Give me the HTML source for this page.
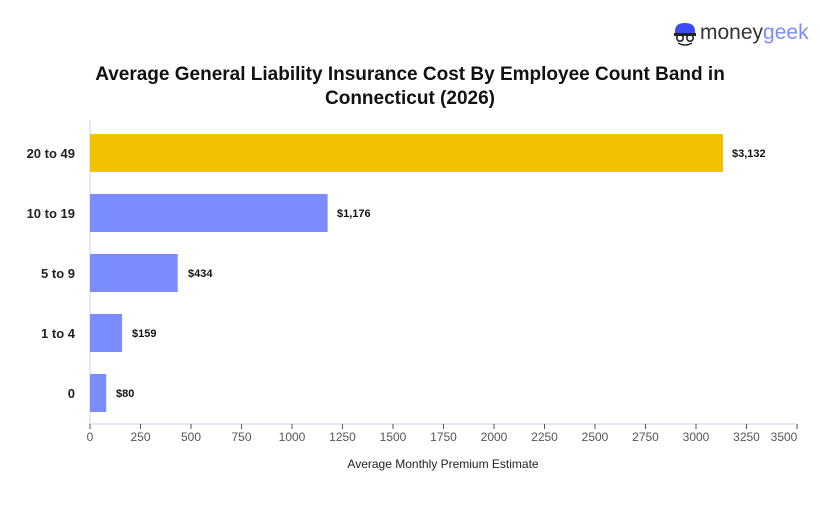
<!DOCTYPE html>
<html><head><style>
body{margin:0;background:#fff;width:820px;height:500px;overflow:hidden;font-family:"Liberation Sans",Arial,sans-serif}
</style></head><body>
<svg width="820" height="500" xmlns="http://www.w3.org/2000/svg" font-family="Liberation Sans, Arial, sans-serif">
<rect width="820" height="500" fill="#fff"/>
<g transform="translate(673,22)">
<path d="M2 9 Q2 1 12 1 Q22 1 22 9 L22 11 L2 11 Z" fill="#3B4CF0"/>
<rect x="1" y="11" width="22" height="3" fill="#222"/>
<circle cx="7" cy="16" r="3.2" fill="none" stroke="#222" stroke-width="1.6"/>
<circle cx="17" cy="16" r="3.2" fill="none" stroke="#222" stroke-width="1.6"/>
<path d="M5 21 Q12 25 19 21" fill="none" stroke="#222" stroke-width="1.4"/>
</g>
<text x="700" y="39" font-size="21" fill="#333">money<tspan fill="#7b8cff">geek</tspan></text>
<text x="410" y="80" text-anchor="middle" font-size="19" font-weight="bold" fill="#111">Average General Liability Insurance Cost By Employee Count Band in</text>
<text x="410" y="104" text-anchor="middle" font-size="19" font-weight="bold" fill="#111">Connecticut (2026)</text>
<line x1="90" y1="120" x2="90" y2="424" stroke="#ccccf5" stroke-width="1"/>
<line x1="90" y1="424" x2="797" y2="424" stroke="#ccccf5" stroke-width="1"/>
<rect x="90" y="134" width="633" height="38" fill="#F2C200"/>
<rect x="90" y="194" width="237.6" height="38" fill="#7B8CFF"/>
<rect x="90" y="254" width="87.7" height="38" fill="#7B8CFF"/>
<rect x="90" y="314" width="32.1" height="38" fill="#7B8CFF"/>
<rect x="90" y="374" width="16.2" height="38" fill="#7B8CFF"/>
<g font-size="11" font-weight="bold" fill="#111">
<text x="732" y="157">$3,132</text>
<text x="337" y="217">$1,176</text>
<text x="188" y="277">$434</text>
<text x="132" y="337">$159</text>
<text x="116" y="397">$80</text>
</g>
<g font-size="13" font-weight="bold" fill="#222" text-anchor="end">
<text x="75" y="158">20 to 49</text>
<text x="75" y="218">10 to 19</text>
<text x="75" y="278">5 to 9</text>
<text x="75" y="338">1 to 4</text>
<text x="75" y="398">0</text>
</g>
<g font-size="12" fill="#555" text-anchor="middle" stroke="none">
<g stroke="#555">
<line x1="90" y1="424" x2="90" y2="429"/><line x1="140.5" y1="424" x2="140.5" y2="429"/><line x1="191" y1="424" x2="191" y2="429"/><line x1="241.5" y1="424" x2="241.5" y2="429"/><line x1="292" y1="424" x2="292" y2="429"/><line x1="342.5" y1="424" x2="342.5" y2="429"/><line x1="393" y1="424" x2="393" y2="429"/><line x1="443.5" y1="424" x2="443.5" y2="429"/><line x1="494" y1="424" x2="494" y2="429"/><line x1="544.5" y1="424" x2="544.5" y2="429"/><line x1="595" y1="424" x2="595" y2="429"/><line x1="645.5" y1="424" x2="645.5" y2="429"/><line x1="696" y1="424" x2="696" y2="429"/><line x1="746.5" y1="424" x2="746.5" y2="429"/><line x1="797" y1="424" x2="797" y2="429"/>
</g>
<text x="90" y="441">0</text><text x="140.5" y="441">250</text><text x="191" y="441">500</text><text x="241.5" y="441">750</text><text x="292" y="441">1000</text><text x="342.5" y="441">1250</text><text x="393" y="441">1500</text><text x="443.5" y="441">1750</text><text x="494" y="441">2000</text><text x="544.5" y="441">2250</text><text x="595" y="441">2500</text><text x="645.5" y="441">2750</text><text x="696" y="441">3000</text><text x="746.5" y="441">3250</text><text x="784" y="441">3500</text>
</g>
<text x="443" y="468" text-anchor="middle" font-size="12" fill="#222">Average Monthly Premium Estimate</text>
</svg>
</body></html>
